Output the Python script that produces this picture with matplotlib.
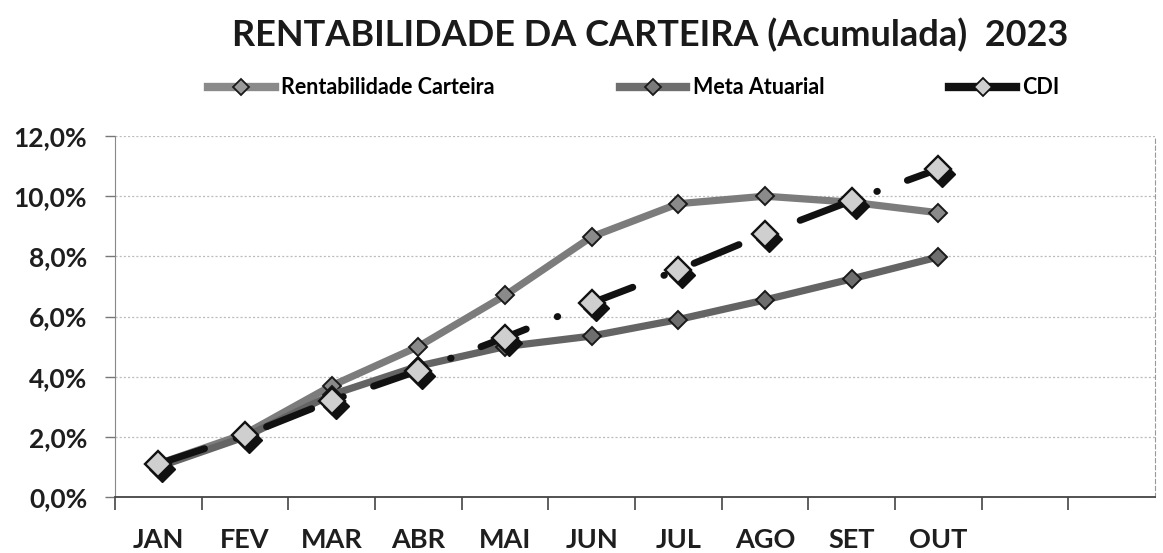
import matplotlib.pyplot as plt
import matplotlib.transforms as mtransforms
from matplotlib.lines import Line2D
from matplotlib.ticker import FuncFormatter, FixedLocator

plt.rcParams['font.family'] = ['Lato', 'DejaVu Sans']
plt.rcParams['font.weight'] = 'bold'
plt.rcParams['lines.scale_dashes'] = False

meses = ['JAN', 'FEV', 'MAR', 'ABR', 'MAI', 'JUN', 'JUL', 'AGO', 'SET', 'OUT']
rentabilidade = [1.1, 2.1, 3.7, 5.0, 6.7, 8.65, 9.75, 10.0, 9.8, 9.45]
meta_atuarial = [1.0, 2.0, 3.4, 4.35, 5.0, 5.35, 5.9, 6.55, 7.25, 7.98]
cdi = [1.1, 2.05, 3.2, 4.2, 5.3, 6.45, 7.55, 8.75, 9.85, 10.9]
n_slots = 12  # eixo com 12 meses, so 10 preenchidos

cor_rent = '#7c7c7c'
cor_meta = '#646464'
cor_cdi = '#111111'
cdi_dash = (0, (35, 24, 0.4, 23))

fig = plt.figure(figsize=(11.63, 5.53), dpi=100)
ax = fig.add_axes([0.0989, 0.1013, 0.8941, 0.6527])

x = list(range(len(meses)))

ax.plot(x, rentabilidade, color=cor_rent, lw=5.2, marker='D', ms=9.5,
        mfc='#8a8a8a', mec='#1a1a1a', mew=1.4, zorder=3)
ax.plot(x, meta_atuarial, color=cor_meta, lw=5.2, marker='D', ms=9.5,
        mfc='#6e6e6e', mec='#1a1a1a', mew=1.4, zorder=3)

# sombra dos marcadores do CDI
sombra = mtransforms.offset_copy(ax.transData, fig=fig, x=4, y=-5, units='dots')
ax.plot(x, cdi, ls='none', marker='D', ms=13, mfc='#111111', mec='#111111',
        transform=sombra, zorder=4)
ax.plot(x, cdi, color=cor_cdi, lw=5, ls=cdi_dash, dash_capstyle='round',
        zorder=4)
ax.plot(x, cdi, ls='none', marker='D', ms=13, mfc='#cfcfcf', mec='#111111',
        mew=1.7, zorder=5)

ax.set_xlim(-0.5, n_slots - 0.5)
ax.set_ylim(0, 12)

ax.set_yticks([0, 2, 4, 6, 8, 10, 12])
ax.yaxis.set_major_formatter(FuncFormatter(lambda v, p: f'{v:.1f}%'.replace('.', ',')))
ax.tick_params(axis='y', length=7, width=1, color='#777777', pad=13,
               labelsize=19, labelcolor='#1e1e1e')
ax.grid(axis='y', color='#bdbdbd', ls=(0, (1.5, 1.5)), lw=0.9)

ax.set_xticks(x)
ax.set_xticklabels(meses)
ax.tick_params(axis='x', which='major', length=0, pad=22.5, labelsize=19.5,
               labelcolor='#1e1e1e')
ax.xaxis.set_minor_locator(FixedLocator([i - 0.5 for i in range(n_slots)]))
ax.tick_params(axis='x', which='minor', length=9, width=1.2, color='#444444',
               direction='out')

ax.spines['top'].set_visible(False)
ax.spines['left'].set_color('#888888')
ax.spines['bottom'].set_color('#444444')
ax.spines['bottom'].set_linewidth(1.3)
ax.spines['right'].set_color('#999999')
ax.spines['right'].set_linestyle((0, (3, 2)))
ax.set_axisbelow(True)

fig.text(0.559, 0.937, 'RENTABILIDADE DA CARTEIRA (Acumulada)  2023',
         ha='center', va='center', fontsize=26, fontweight='bold', color='#1a1a1a')

handles = [
    Line2D([], [], color='#8a8a8a', lw=6, marker='D', ms=8,
           mfc='#9a9a9a', mec='#1a1a1a', mew=1.3),
    Line2D([], [], color='#6e6e6e', lw=6, marker='D', ms=8,
           mfc='#7a7a7a', mec='#1a1a1a', mew=1.3),
    Line2D([], [], color=cor_cdi, lw=6, marker='D', ms=9,
           mfc='#cfcfcf', mec='#111111', mew=1.3),
]
fig.legend(handles, ['Rentabilidade Carteira', 'Meta Atuarial', 'CDI'],
           loc='center', bbox_to_anchor=(0.545, 0.841), ncol=3, frameon=False,
           fontsize=15.5, handlelength=3.1, handletextpad=0.3,
           columnspacing=5.8)

fig.savefig('out.png', dpi=100)
